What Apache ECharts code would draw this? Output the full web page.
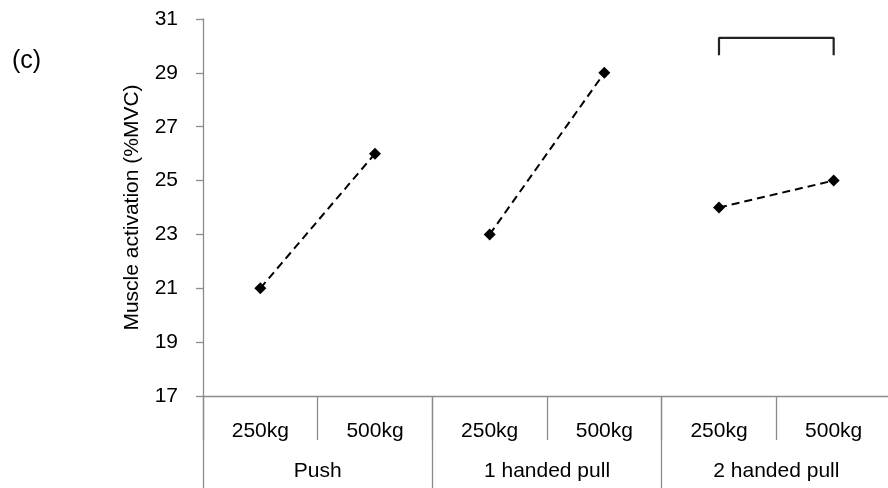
<!DOCTYPE html>
<html>
<head>
<meta charset="utf-8">
<script src="https://cdn.jsdelivr.net/npm/echarts@6/dist/echarts.min.js"></script>
<style>
  html, body { margin: 0; padding: 0; background: #fff; }
  #chart { width: 888px; height: 488px; }
</style>
</head>
<body>
<div id="chart"></div>
<script>
// Load levels and task groups shown on the two-row category axis
const loads = ['250kg', '500kg', '250kg', '500kg', '250kg', '500kg'];
const tasks = ['Push', '1 handed pull', '2 handed pull'];

// Mean muscle activation (%MVC) per task at each load
const pushValues = [21, 26];
const oneHandValues = [23, 29];
const twoHandValues = [24, 25];

// Significance bracket over the 2 handed pull pair: [low end, top]
const bracketLevels = [29.65, 30.3];

// Y-axis scale
const yMin = 17, yMax = 31, yStep = 2;

const FONT = 'Liberation Sans, Arial, sans-serif';
const AXIS_GREY = '#8c8c8c';
const LABEL_SIZE = 21;

function padSeries(pair, startIndex) {
  const arr = loads.map(() => null);
  arr[startIndex] = pair[0];
  arr[startIndex + 1] = pair[1];
  return arr;
}

const lineStyle = { color: '#000', width: 2, type: [8, 5] };

function taskSeries(name, pair, startIndex) {
  return {
    name: name,
    type: 'line',
    xAxisIndex: 0,
    data: padSeries(pair, startIndex),
    symbol: 'diamond',
    symbolSize: 12,
    itemStyle: { color: '#000' },
    lineStyle: lineStyle,
    connectNulls: false,
    silent: true,
    animation: false
  };
}

const chart = echarts.init(document.getElementById('chart'), null, { renderer: 'canvas' });

chart.setOption({
  backgroundColor: '#fff',
  animation: false,
  textStyle: { fontFamily: FONT },
  title: {
    text: '(c)',
    left: 12,
    top: 49,
    padding: 0,
    textStyle: { fontFamily: FONT, fontSize: 25, fontWeight: 'normal', color: '#000' }
  },
  // the plot runs slightly past the right edge of the canvas
  grid: { left: 203, top: 19, width: 688, height: 377, containLabel: false, outerBoundsMode: 'none' },
  xAxis: [
    {
      type: 'category',
      data: loads,
      position: 'bottom',
      boundaryGap: true,
      axisLine: { show: true, lineStyle: { color: AXIS_GREY, width: 1.3 } },
      axisTick: { show: true, alignWithLabel: false, length: 44, lineStyle: { color: AXIS_GREY, width: 1.3 } },
      axisLabel: { show: true, margin: 25, color: '#000', fontSize: LABEL_SIZE, fontFamily: FONT, interval: 0 },
      splitLine: { show: false }
    },
    {
      type: 'category',
      data: tasks,
      position: 'bottom',
      boundaryGap: true,
      axisLine: { show: false },
      axisTick: { show: true, length: 95, lineStyle: { color: AXIS_GREY, width: 1.3 } },
      axisLabel: { show: true, margin: 65, color: '#000', fontSize: LABEL_SIZE, fontFamily: FONT, interval: 0 },
      splitLine: { show: false }
    }
  ],
  yAxis: {
    type: 'value',
    min: yMin,
    max: yMax,
    interval: yStep,
    name: 'Muscle activation (%MVC)',
    nameLocation: 'middle',
    nameGap: 60,
    nameRotate: 90,
    nameTextStyle: { color: '#000', fontSize: LABEL_SIZE, fontFamily: FONT },
    axisLine: { show: true, lineStyle: { color: AXIS_GREY, width: 1.3 } },
    axisTick: { show: true, inside: false, length: 7, lineStyle: { color: AXIS_GREY, width: 1.3 } },
    axisLabel: { color: '#000', fontSize: LABEL_SIZE, fontFamily: FONT, margin: 25 },
    splitLine: { show: false }
  },
  series: [
    taskSeries('Push', pushValues, 0),
    taskSeries('1 handed pull', oneHandValues, 2),
    taskSeries('2 handed pull', twoHandValues, 4),
    {
      name: 'bracket',
      type: 'line',
      xAxisIndex: 0,
      data: [
        [4, bracketLevels[0]],
        [4, bracketLevels[1]],
        [5, bracketLevels[1]],
        [5, bracketLevels[0]]
      ],
      symbol: 'none',
      lineStyle: { color: '#222', width: 2.2, type: 'solid' },
      silent: true,
      animation: false
    }
  ]
});
</script>
</body>
</html>
